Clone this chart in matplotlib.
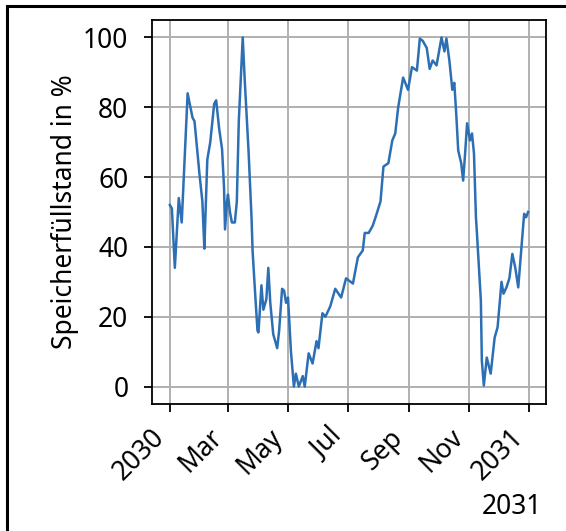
import numpy as np
import matplotlib
matplotlib.use("Agg")
import matplotlib.pyplot as plt
import matplotlib.dates as mdates
from matplotlib.patches import Rectangle

plt.rcParams['font.family'] = ['Noto Sans', 'DejaVu Sans']

# day offset from 2030-01-01 and storage level (%)
day_offset = [0, 2, 5, 9, 12, 18, 23, 25, 30, 33, 35, 36, 38, 41, 45, 47, 50, 53,
              55, 56, 58, 59, 61, 63, 66, 68, 70, 72, 74, 76, 80, 83, 84, 86, 89,
              90, 93, 95, 98, 100, 102, 105, 109, 111, 114, 116, 118, 120, 123,
              126, 128, 131, 135, 137, 141, 145, 149, 151, 155, 158, 163, 168,
              174, 179, 186, 191, 196, 198, 202, 206, 209, 214, 217, 222, 226,
              229, 232, 237, 242, 246, 251, 254, 257, 261, 264, 267, 271, 276,
              279, 281, 284, 287, 289, 291, 293, 296, 298, 300, 302, 305, 307,
              309, 311, 312, 316, 317, 319, 322, 326, 330, 333, 337, 339, 342,
              345, 348, 351, 354, 357, 360, 362, 364]
level = [52, 51, 34, 54, 47, 84, 77, 76, 61, 53, 39.5, 48, 65, 70, 81, 82, 74, 68,
         57, 45, 53, 55, 50, 47, 47, 53, 76, 88, 100, 88, 67, 48, 39, 29.5, 16,
         15.5, 29, 22, 25, 34, 24, 15, 11, 16, 28, 27.5, 24, 25.5, 10,
         0, 3.7, 0, 3, 0, 9.5, 6.6, 13, 11, 21, 20, 23, 28,
         25.5, 31, 29.5, 37, 39, 44, 44, 46, 48.5, 53, 63, 64, 70.5,
         72.5, 80, 88.5, 85, 91.5, 90.5, 99.7, 99, 97, 91, 93.4, 92, 100,
         96, 99.7, 93.4, 85, 87, 78, 67.6, 64, 59, 66.8, 75.4, 70.5, 72.5,
         66.8, 48.5, 44, 24.6, 7.4, 0.3, 8.3, 3.7, 14, 17, 30, 26.6, 28.4,
         31, 38, 34, 28.4, 39, 49.5, 48.5, 50]
offset_label = '2031'

dates = np.datetime64('2030-01-01') + np.array(day_offset).astype('timedelta64[D]')

fig = plt.figure(figsize=(5.66, 5.31), dpi=100)
ax = fig.add_axes([152/566, 1-404/531, (546-152)/566, (404-20)/531])

ax.plot(dates, level, color='#2c6fb5', lw=1.8)
ax.set_ylabel('Speicherfüllstand in %', fontsize=19, labelpad=3)
ax.set_yticks([0, 20, 40, 60, 80, 100])

loc = mdates.MonthLocator(bymonth=[1, 3, 5, 7, 9, 11])
ax.xaxis.set_major_locator(loc)
fmt = mdates.ConciseDateFormatter(loc, show_offset=False)
ax.xaxis.set_major_formatter(fmt)
ax.tick_params(labelsize=19, length=6, width=1.3)
ax.tick_params(axis='y', pad=11)
ax.tick_params(axis='x', pad=8)
for lab in ax.get_xticklabels():
    lab.set_rotation(45)
    lab.set_ha('right')

ax.grid(True, color='#b0b0b0', lw=1.4)
for s in ax.spines.values():
    s.set_linewidth(1.3)

fig.text(542/566, 1-507/531, offset_label, ha='right', va='center', fontsize=19)

fig.patches.append(Rectangle((7/566, -0.2), 1.5, 1.2 - 6/531, transform=fig.transFigure,
                             fill=False, edgecolor='black', lw=2.2, clip_on=False))

fig.savefig('out.png', dpi=100)
